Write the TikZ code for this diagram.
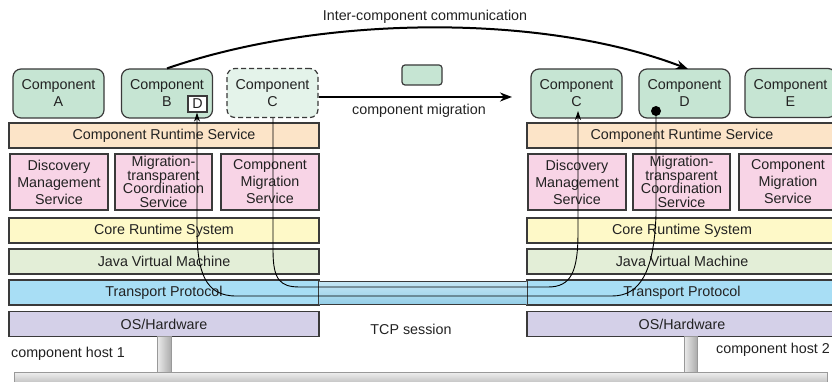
\documentclass[tikz,border=0pt]{standalone}
\usepackage{fontspec}
\setmainfont{Liberation Sans}
\usetikzlibrary{arrows.meta,calc}
\definecolor{compg}{HTML}{C6E5D3}
\definecolor{compl}{HTML}{E4F3EA}
\definecolor{crsc}{HTML}{FCE4C8}
\definecolor{svcc}{HTML}{F8D4E6}
\definecolor{corec}{HTML}{FEF9C8}
\definecolor{jvmc}{HTML}{E3EED7}
\definecolor{tpc}{HTML}{A8DEF5}
\definecolor{osc}{HTML}{D4D0E8}
\definecolor{bordc}{HTML}{3A3A3A}
\definecolor{txtc}{HTML}{222222}
\definecolor{tubet}{HTML}{C6E7F5}
\definecolor{tubeb}{HTML}{94CEE7}
\begin{document}
\begin{tikzpicture}[x=1pt,y=-1pt,
  font=\fontsize{14.3}{17}\selectfont,
  base/.style={draw=bordc, line width=1.2pt, inner sep=0pt, align=center, text=txtc},
  comp/.style={base, fill=compg, rounded corners=8pt, minimum width=91pt, minimum height=49pt},
  layer/.style={base, minimum width=310pt, minimum height=25pt},
  svc/.style={base, fill=svcc, minimum width=97pt, minimum height=56pt},
  tight/.style={font=\fontsize{14.3}{13.7}\selectfont},
  lbl/.style={inner sep=0pt, text=txtc},
  conn/.style={draw=black, line width=0.9pt},
  bigarrow/.style={draw=black, line width=2pt, -{Stealth[length=12pt,width=9pt]}},
  pipe/.style={left color=gray!15, right color=gray!65, draw=gray!80, line width=0.6pt}]
\useasboundingbox (0,0) rectangle (832,382);
\clip (0,0) rectangle (832,382);
\fill[white] (0,0) rectangle (832,382);

% ---------- host 1 ----------
\node[comp] (compA) at (58.5,93.5) {Component\\A};
\node[comp] (compB) at (167,93.5) {Component\\B};
\node[base, fill=white, line width=1.4pt, minimum width=19pt, minimum height=16pt] (dbox) at (197.5,104) {D};
\node[comp, fill=compl, dashed, dash pattern=on 5pt off 3pt] (compC) at (272.5,93) {Component\\C};
\node[layer, fill=crsc] (crs1) at (164,135.5) {Component Runtime Service};
\node[svc, minimum width=98pt] (disc1) at (59,182) {Discovery\\Management\\Service};
\node[svc, tight] (mtcs1) at (163.5,182) {Migration-\\transparent\\Coordination\\Service};
\node[svc, minimum width=98pt] (cms1) at (270,182) {Component\\Migration\\Service};
\node[layer, fill=corec] (core1) at (164,230.5) {Core Runtime System};
\node[layer, fill=jvmc] (jvm1) at (164,261.5) {Java Virtual Machine};
\node[layer, fill=tpc] (tp1) at (164,292.5) {Transport Protocol};
\node[layer, fill=osc] (os1) at (164,324) {OS/Hardware};

% ---------- host 2 ----------
\node[comp] (compC2) at (576.5,93.5) {Component\\C};
\node[comp] (compD2) at (684.5,93.5) {Component\\D};
\node[comp] (compE2) at (790.5,93) {Component\\E};
\node[layer, fill=crsc] (crs2) at (682,135.5) {Component Runtime Service};
\node[svc, minimum width=98pt] (disc2) at (577,182) {Discovery\\Management\\Service};
\node[svc, tight] (mtcs2) at (681.5,182) {Migration-\\transparent\\Coordination\\Service};
\node[svc, minimum width=98pt] (cms2) at (788,182) {Component\\Migration\\Service};
\node[layer, fill=corec] (core2) at (682,230.5) {Core Runtime System};
\node[layer, fill=jvmc] (jvm2) at (682,261.5) {Java Virtual Machine};
\node[layer, fill=tpc] (tp2) at (682,292.5) {Transport Protocol};
\node[layer, fill=osc] (os2) at (682,324) {OS/Hardware};

% ---------- network ----------
\path[pipe] (157,336.6) rectangle (171,372);
\path[pipe] (684,336.6) rectangle (697,372);
\path[top color=gray!12, bottom color=gray!45, draw=gray!80, line width=0.6pt] (14,372) rectangle (827,382);

% TCP tube
\path[top color=tubet, bottom color=tubeb] (tp1.east |- 0,281) rectangle (tp2.west |- 0,304);
\draw[bordc, line width=0.9pt] (tp1.east |- 0,281) -- (tp2.west |- 0,281);
\draw[bordc, line width=0.9pt] (tp1.east |- 0,304) -- (tp2.west |- 0,304);

% ---------- labels ----------
\node[lbl] (icc) at (425,17) {Inter-component communication};
\node[lbl] (cmig) at (419,111) {component migration};
\node[lbl] (tcp) at (411,329) {TCP session};
\node[lbl, anchor=west] (host1) at (11,354) {component host 1};
\node[lbl, anchor=west] (host2) at (716,350) {component host 2};
\node[base, fill=compg, rounded corners=3pt, minimum width=40pt, minimum height=20pt] (mini) at (422,75) {};

% ---------- connectors ----------
\node[circle, fill=black, inner sep=0pt, minimum size=10pt] (dot) at (656,111) {};
\coordinate (c2in) at (578,111);

% migration path of C
\draw[conn, -{Stealth[length=9pt,width=6pt]}]
  (compC.south -| 273,0) -- (273,250) .. controls (273,280) and (280,287) .. (300,287)
  -- (548,287) .. controls (571,287) and (578,272) .. (578,232) -- (c2in);

% communication path D -> D proxy
\draw[conn, -{Stealth[length=9pt,width=6pt]}]
  (dot.center) -- (656,215) .. controls (654,272) and (640,296) .. (612,296)
  -- (236,296) .. controls (205,296) and (197,272) .. (197,228) -- (dbox.south -| 197,0);

% inter-component communication
\draw[bigarrow] (compB.north) .. controls (325,14) and (545,14) .. (688,69);

% component migration
\draw[bigarrow] (compC.east |- 0,97) -- (512,97);

\end{tikzpicture}
\end{document}
